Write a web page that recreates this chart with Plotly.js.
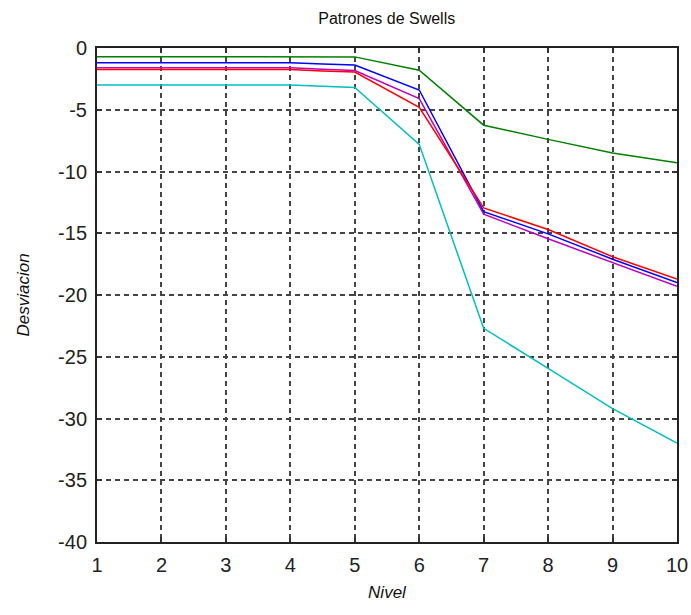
<!DOCTYPE html>
<html>
<head>
<meta charset="utf-8">
<script src="https://cdn.plot.ly/plotly-3.0.1.min.js"></script>
<style>html,body{margin:0;padding:0;background:#fff;}#chart{width:691px;height:615px;}</style>
</head>
<body>
<div id="chart"></div>
<script>
const nivel = [1, 2, 3, 4, 4.5, 5, 6, 7, 8, 9, 10];
const serieVerde   = [-0.7, -0.7, -0.7, -0.7, -0.7, -0.72, -1.8, -6.25, -7.4, -8.5, -9.3];
const serieAzul    = [-1.2, -1.2, -1.2, -1.2, -1.3, -1.38, -3.4, -13.25, -15.05, -17.1, -19.0];
const serieMagenta = [-1.6, -1.6, -1.6, -1.6, -1.72, -1.82, -4.1, -13.45, -15.45, -17.4, -19.3];
const serieRoja    = [-1.75, -1.75, -1.75, -1.75, -1.86, -1.95, -4.8, -12.95, -14.7, -16.9, -18.7];
const serieCian    = [-3.0, -3.0, -3.0, -3.0, -3.1, -3.2, -7.8, -22.7, -25.95, -29.2, -32.0];
const xTicks = [1, 2, 3, 4, 5, 6, 7, 8, 9, 10];
const xTickText = ['1', '2', '3', '4', '5', '6', '7', '8', '9', '10'];
const yTicks = [0, -5, -10, -15, -20, -25, -30, -35, -40];
const yTickText = ['0', '-5', '-10', '-15', '-20', '-25', '-30', '-35', '-40'];

const mk = (y, color) => ({x: nivel, y: y, type: 'scatter', mode: 'lines',
  line: {color: color, width: 1.5}, hoverinfo: 'skip', showlegend: false});

const data = [
  mk(serieCian, '#00bfbf'),
  mk(serieVerde, '#008000'),
  mk(serieMagenta, '#bf00bf'),
  mk(serieAzul, '#0000ff'),
  mk(serieRoja, '#ff0000')
];

const font = 'Liberation Sans Narrow, Arial Narrow, Liberation Sans, Arial, sans-serif';
const axisCommon = {
  showline: true, linecolor: '#222', linewidth: 2, mirror: 'allticks',
  ticks: 'inside', ticklen: 5, tickcolor: '#333', tickwidth: 2,
  showgrid: true, gridcolor: '#444', gridwidth: 2, griddash: '5px,4px',
  zeroline: false, tickfont: {family: font, size: 20, color: '#222'}
};

const layout = {
  width: 691, height: 615,
  margin: {l: 97, r: 14, t: 48, b: 73},
  paper_bgcolor: '#fff', plot_bgcolor: '#fff',
  title: {text: 'Patrones de Swells', font: {family: 'Liberation Sans, Arial, sans-serif', size: 16, color: '#111'},
          x: 0.5597, xanchor: 'center', y: 0.97, yanchor: 'middle'},
  xaxis: Object.assign({}, axisCommon, {range: [1, 10], tickvals: xTicks, ticktext: xTickText,
    ticklabelstandoff: 4,
    title: {text: '<i>Nivel</i>', font: {family: 'Liberation Sans, Arial, sans-serif', size: 17, color: '#111'}, standoff: 11}}),
  yaxis: Object.assign({}, axisCommon, {range: [-40, 0], tickvals: yTicks, ticktext: yTickText,
    ticklabelstandoff: 4,
    title: {text: '<i>Desviacion</i>', font: {family: 'Liberation Sans, Arial, sans-serif', size: 17, color: '#111'}, standoff: 24}})
};

Plotly.newPlot('chart', data, layout, {displayModeBar: false, staticPlot: true});
</script>
</body>
</html>
